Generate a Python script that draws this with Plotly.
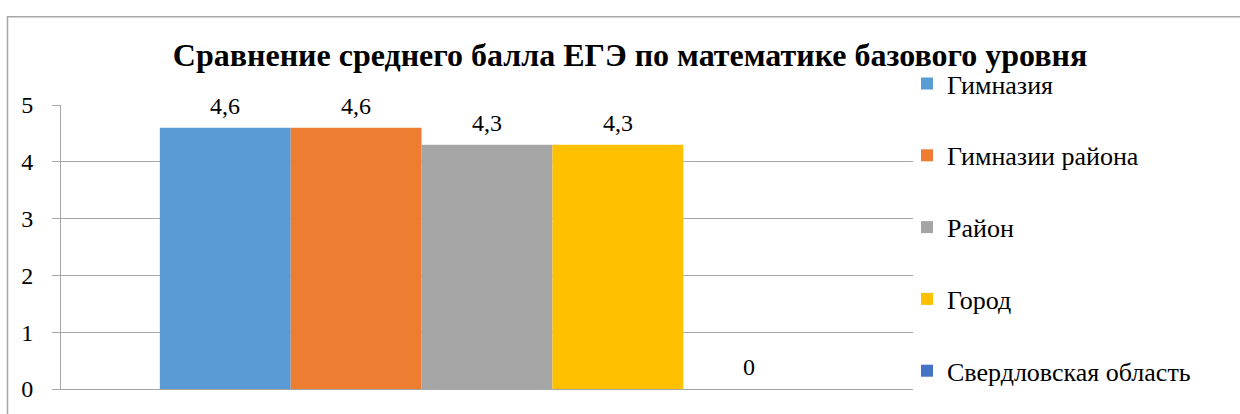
import plotly.graph_objects as go

title = "Сравнение среднего балла ЕГЭ по математике базового уровня"
category = ["Средний балл"]
series_names = ["Гимназия", "Гимназии района", "Район", "Город", "Свердловская область"]
series_values = [4.6, 4.6, 4.3, 4.3, 0]
series_labels = ["4,6", "4,6", "4,3", "4,3", "0"]
colors = ["#5B9BD5", "#ED7D31", "#A5A5A5", "#FFC000", "#4472C4"]
y_ticks = [0, 1, 2, 3, 4, 5]

FONT = "Times New Roman, Liberation Serif, serif"
BARGAP = 0.232

fig = go.Figure()
for i, (name, val, col) in enumerate(zip(series_names, series_values, colors)):
    fig.add_trace(go.Bar(
        x=category, y=[val], name=name, marker=dict(color=col, line=dict(width=0)),
        legendgroup=f"g{i}", hoverinfo="skip",
    ))

# data labels above bars
n = len(series_names)
w = (1 - BARGAP) / n
for i, (val, lab) in enumerate(zip(series_values, series_labels)):
    xoff = -(1 - BARGAP) / 2 + (i + 0.5) * w
    fig.add_annotation(x=xoff, y=val, xref="x", yref="y", text=lab, showarrow=False,
                       yshift=22, yanchor="middle",
                       font=dict(family=FONT, size=24, color="#000000"))

fig.update_layout(
    width=1240, height=414,
    margin=dict(l=61, r=327, t=105, b=18),
    paper_bgcolor="white", plot_bgcolor="white",
    barmode="group", bargap=BARGAP, bargroupgap=0,
    font=dict(family=FONT, size=24, color="#000000"),
    title=dict(text=f"<b>{title}</b>", x=630 / 1240, xref="container", xanchor="center",
               y=1 - 55 / 414, yref="container", yanchor="middle",
               font=dict(family=FONT, size=32, color="#000000")),
    showlegend=True,
    legend=dict(x=(907 - 61) / 852, xanchor="left", y=(396 - 59) / 291, yanchor="top",
                traceorder="grouped", tracegroupgap=35, maxheight=414,
                font=dict(family=FONT, size=26, color="#000000"),
                bgcolor="rgba(0,0,0,0)"),
    xaxis=dict(showticklabels=False, showgrid=False, ticks="",
               showline=True, linecolor="#A6A6A6", linewidth=1, range=[-0.5, 0.5]),
    yaxis=dict(range=[0, 5], tickvals=y_ticks, ticktext=[str(v) for v in y_ticks],
               showgrid=True, gridcolor="#A6A6A6", gridwidth=1,
               showline=True, linecolor="#A6A6A6", linewidth=1,
               ticks="outside", ticklen=8, tickcolor="#A6A6A6",
               ticklabelstandoff=14, zeroline=False,
               tickfont=dict(family=FONT, size=24, color="#000000")),
)

# outer chart border
fig.add_shape(type="rect", xref="paper", yref="paper",
              x0=(7.5 - 61) / 852, x1=(1260 - 61) / 852,
              y0=-0.2, y1=(396 - 14.5) / 291,
              line=dict(color="#A6A6A6", width=1.5), fillcolor="rgba(0,0,0,0)", layer="below")

fig.write_html("out.html", config={"displayModeBar": False},
               post_script="document.body.style.margin='0';")
